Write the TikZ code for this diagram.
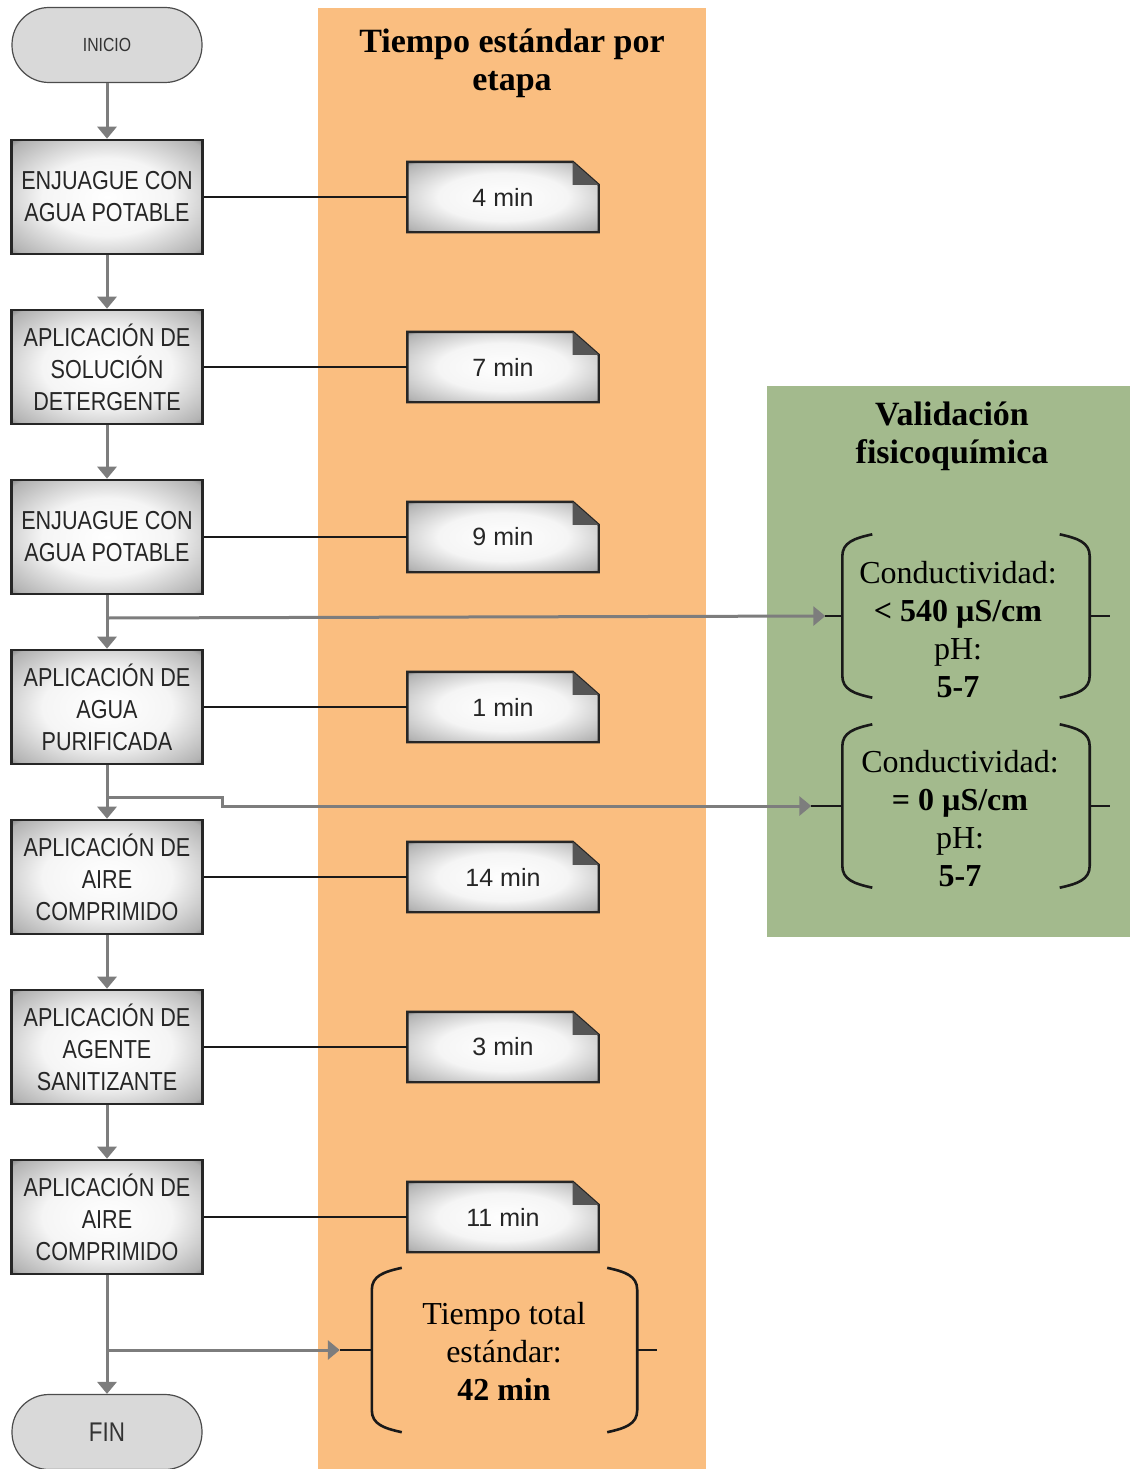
\documentclass[tikz,border=0pt]{standalone}
\usepackage{fontspec}
\setmainfont{Liberation Serif}
\newfontfamily\boxfont[FakeStretch=0.83]{Liberation Sans}
\newfontfamily\notefont{Liberation Sans}
\usepackage{tikz}
\usetikzlibrary{arrows.meta}
\usetikzlibrary{backgrounds}
\usetikzlibrary{calc}

\definecolor{naranja}{RGB}{250,190,128}
\definecolor{verde}{RGB}{163,186,141}
\definecolor{grisflecha}{RGB}{125,125,125}
\definecolor{gristerm}{RGB}{217,217,217}
\definecolor{pliegue}{RGB}{85,85,85}

\pgfdeclareradialshading{brillo}{\pgfpoint{0bp}{0bp}}{color(0bp)=(white); color(17bp)=(white!96!black); color(33bp)=(black!30); color(36bp)=(black!50); color(50bp)=(black!55)}

\tikzset{
  terminal/.style={rectangle, rounded corners=37pt, draw=black!70, line width=1.2pt,
    fill=gristerm, minimum width=190pt, minimum height=75pt, inner sep=0pt, text=black!80},
  etapa/.style={rectangle, draw=black!85, line width=2.6pt, shade, shading=brillo,
    minimum width=191pt, minimum height=114pt, inner sep=0pt, align=center,
    font=\boxfont\fontsize{26}{32}\selectfont, text=black!85},
  tiempo/.style={rectangle, minimum width=191pt, minimum height=70pt, inner sep=0pt,
    font=\notefont\fontsize{25}{30}\selectfont, text=black!85},
  hoja/.style={draw=black!85, line width=2.4pt, shade, shading=brillo},
  titulo/.style={align=center, font=\bfseries\fontsize{34}{38}\selectfont},
  valor/.style={align=center, font=\fontsize{32}{38}\selectfont},
  marco/.style={rectangle, inner sep=0pt},
  corchete/.style={draw=black!90, line width=2.6pt},
  union/.style={draw=black!90, line width=2.4pt},
  flecha/.style={draw=grisflecha, line width=3pt, -{Triangle[width=19pt,length=12pt]}}
}

\begin{document}
\begin{tikzpicture}[x=1pt,y=-1pt]
  \useasboundingbox (0,0) rectangle (1130,1469);

  \begin{scope}[on background layer]
    \fill[naranja] (318,8) rectangle (706,1469);
    \fill[verde] (767,386) rectangle (1130,937);
  \end{scope}

  % titulos de las columnas
  \node[titulo] (tit1) at (512,63) {Tiempo estándar por\\etapa};
  \node[titulo] (tit2) at (952,436) {Validación\\fisicoquímica};

  % etapas del proceso
  \node[terminal, font=\boxfont\fontsize{19}{22}\selectfont] (ini) at (107,45) {INICIO};
  \node[etapa] (e1) at (107,197) {ENJUAGUE CON\\AGUA POTABLE};
  \node[etapa] (e2) at (107,367) {APLICACIÓN DE\\SOLUCIÓN\\DETERGENTE};
  \node[etapa] (e3) at (107,537) {ENJUAGUE CON\\AGUA POTABLE};
  \node[etapa] (e4) at (107,707) {APLICACIÓN DE\\AGUA\\PURIFICADA};
  \node[etapa] (e5) at (107,877) {APLICACIÓN DE\\AIRE\\COMPRIMIDO};
  \node[etapa] (e6) at (107,1047) {APLICACIÓN DE\\AGENTE\\SANITIZANTE};
  \node[etapa] (e7) at (107,1217) {APLICACIÓN DE\\AIRE\\COMPRIMIDO};
  \node[terminal, font=\boxfont\fontsize{27}{30}\selectfont] (fin) at (107,1432) {FIN};

  % tiempos por etapa
  \node[tiempo] (t1) at (503,197) {4 min};
  \node[tiempo] (t2) at (503,367) {7 min};
  \node[tiempo] (t3) at (503,537) {9 min};
  \node[tiempo] (t4) at (503,707) {1 min};
  \node[tiempo] (t5) at (503,877) {14 min};
  \node[tiempo] (t6) at (503,1047) {3 min};
  \node[tiempo] (t7) at (503,1217) {11 min};

  \begin{scope}[on background layer]
    \foreach \t in {t1,t2,t3,t4,t5,t6,t7}{
      \path[hoja] (\t.north west) -- ([xshift=-26pt]\t.north east)
        -- ([yshift=-23pt]\t.north east) -- (\t.south east) -- (\t.south west) -- cycle;
      \fill[pliegue] ([xshift=-26pt]\t.north east) -- ([xshift=-26pt,yshift=-23pt]\t.north east)
        -- ([yshift=-23pt]\t.north east) -- cycle;
    }
  \end{scope}

  % validacion y total
  \node[marco, minimum width=247pt, minimum height=163pt] (llave1) at (966,616) {};
  \node[valor] (v1) at (958,630) {Conductividad:\\\textbf{< 540 µS/cm}\\pH:\\\textbf{5-7}};
  \node[marco, minimum width=247pt, minimum height=163pt] (llave2) at (966,806) {};
  \node[valor] (v2) at (960,819) {Conductividad:\\\textbf{= 0 µS/cm}\\pH:\\\textbf{5-7}};
  \node[marco, minimum width=265pt, minimum height=164pt] (llave3) at (504.5,1350) {};
  \node[valor] (tot) at (504,1351) {Tiempo total\\estándar:\\\textbf{42 min}};

  \foreach \l/\d in {llave1/17,llave2/31,llave3/32}{
    \draw[corchete] ([xshift=30pt]\l.north west)
      .. controls ([xshift=12pt,yshift=-4pt]\l.north west) and ([yshift=-8pt]\l.north west)
      .. ([yshift=-22pt]\l.north west) -- ([yshift=22pt]\l.south west)
      .. controls ([yshift=8pt]\l.south west) and ([xshift=12pt,yshift=4pt]\l.south west)
      .. ([xshift=30pt]\l.south west);
    \draw[corchete] ([xshift=-30pt]\l.north east)
      .. controls ([xshift=-12pt,yshift=-4pt]\l.north east) and ([yshift=-8pt]\l.north east)
      .. ([yshift=-22pt]\l.north east) -- ([yshift=22pt]\l.south east)
      .. controls ([yshift=8pt]\l.south east) and ([xshift=-12pt,yshift=4pt]\l.south east)
      .. ([xshift=-30pt]\l.south east);
    \draw[union] (\l.west) -- ++(-\d pt,0);
    \draw[union] (\l.east) -- ++(20pt,0);
  }

  % flujo principal
  \draw[flecha] (ini) -- (e1);
  \draw[flecha] (e1) -- (e2);
  \draw[flecha] (e2) -- (e3);
  \draw[flecha] (e3) -- (e4);
  \draw[flecha] (e4) -- (e5);
  \draw[flecha] (e5) -- (e6);
  \draw[flecha] (e6) -- (e7);
  \draw[flecha] (e7) -- (fin);

  % uniones con los tiempos
  \foreach \i in {1,...,7}{
    \draw[union] (e\i) -- (t\i);
  }

  % derivaciones
  \coordinate (c1) at (107,618);
  \coordinate (c2) at (107,797);
  \coordinate (c3) at (107,1350);
  \draw[flecha] (c1) -- ([xshift=-17pt]llave1.west);
  \draw[flecha] (c2) -- ++(115,0) -- ++(0,9) -- ([xshift=-31pt]llave2.west);
  \draw[flecha] (c3) -- ([xshift=-32pt]llave3.west);

\end{tikzpicture}
\end{document}
